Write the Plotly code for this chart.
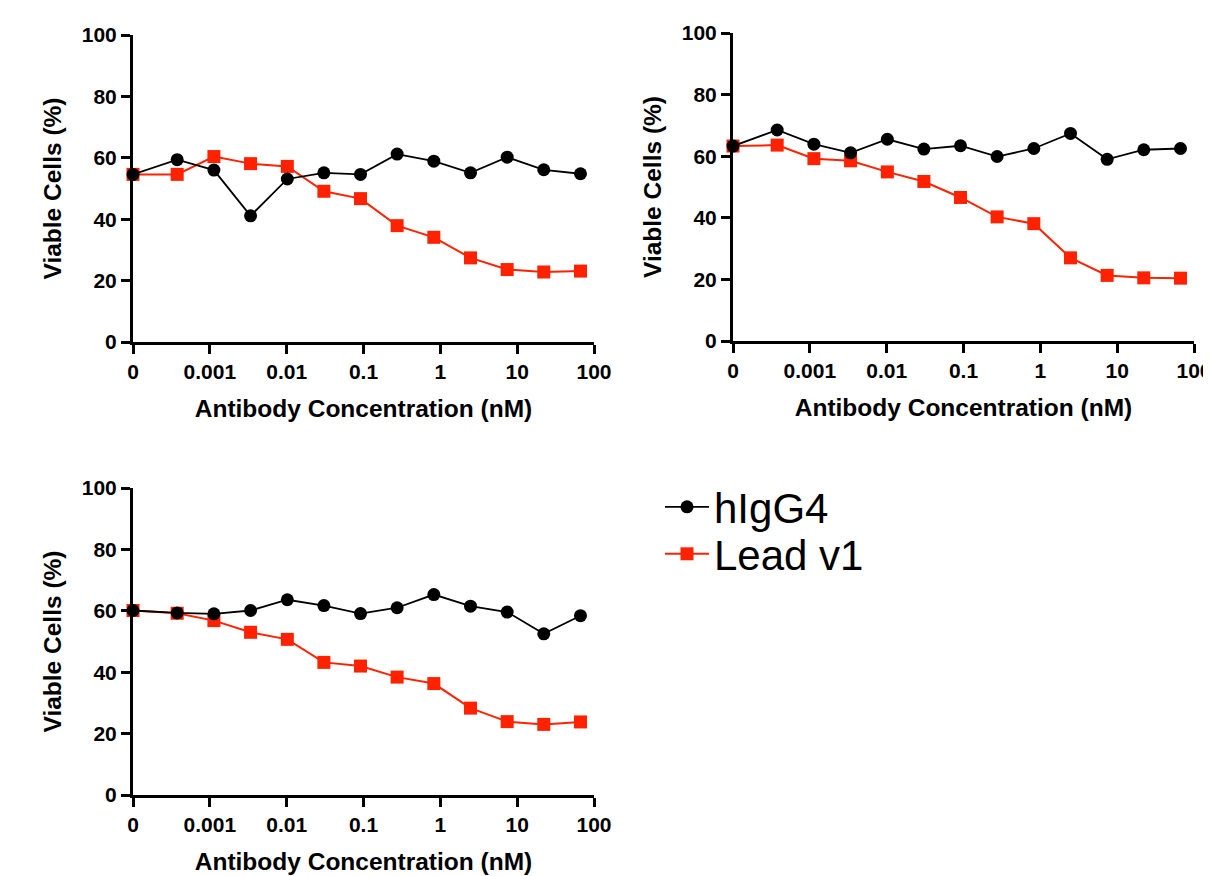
import plotly.graph_objects as go

# Antibody concentrations (nM); 0 is drawn at the "0" tick position (1e-4)
conc = [0, 0.000376, 0.00113, 0.00339, 0.0102, 0.0305, 0.0914, 0.274, 0.823, 2.47, 7.41, 22.2, 66.7]
zero_pos = 1e-4

x_tickvals = [1e-4, 1e-3, 1e-2, 1e-1, 1, 10, 100]
x_ticktext = ["0", "0.001", "0.01", "0.1", "1", "10", "100"]

higg4_p1 = [54.6, 59.4, 56.0, 41.1, 53.1, 55.1, 54.6, 61.2, 58.9, 55.1, 60.2, 56.1, 54.8]
lead_p1 = [54.6, 54.6, 60.4, 58.1, 57.2, 49.1, 46.7, 37.9, 34.1, 27.4, 23.6, 22.8, 23.1]

higg4_p2 = [63.3, 68.5, 63.9, 61.1, 65.5, 62.3, 63.4, 59.9, 62.5, 67.4, 59.0, 62.1, 62.5]
lead_p2 = [63.3, 63.6, 59.2, 58.5, 54.9, 51.8, 46.6, 40.3, 38.1, 27.0, 21.3, 20.5, 20.4]

higg4_p3 = [60.1, 59.3, 59.0, 60.1, 63.6, 61.7, 59.1, 61.0, 65.3, 61.5, 59.6, 52.5, 58.4]
lead_p3 = [60.1, 59.2, 56.8, 53.0, 50.7, 43.2, 42.0, 38.4, 36.3, 28.3, 23.9, 23.0, 23.8]

panels = [(higg4_p1, lead_p1), (higg4_p2, lead_p2), (higg4_p3, lead_p3)]

xpos = [zero_pos if c == 0 else c for c in conc]

W, H = 1211, 876
OFF = 8  # page body margin
# pixel boxes on the page: (left, right, top, bottom)
boxes = [(133, 594, 35, 342), (733, 1194, 33, 341), (133, 594, 488, 795)]


def px_x(p):
    return (p - OFF) / W


def px_y(p):
    return 1 - (p - OFF) / H


BLACK = "#000000"
RED = "#FF2200"
FONT = "Liberation Sans, Arial, sans-serif"

fig = go.Figure()
layout = {}
for i, ((hig, lead), (l, r, t, b)) in enumerate(zip(panels, boxes)):
    n = "" if i == 0 else str(i + 1)
    xa, ya = "x" + n, "y" + n
    show = i == 0
    fig.add_trace(go.Scatter(
        x=xpos, y=lead, mode="lines+markers", name="Lead v1",
        xaxis=xa, yaxis=ya, showlegend=show, legend="legend2",
        line=dict(color=RED, width=2),
        marker=dict(symbol="square", size=13, color=RED),
        cliponaxis=False))
    fig.add_trace(go.Scatter(
        x=xpos, y=hig, mode="lines+markers", name="hIgG4",
        xaxis=xa, yaxis=ya, showlegend=show, legend="legend",
        line=dict(color=BLACK, width=1.8),
        marker=dict(symbol="circle", size=13, color=BLACK),
        cliponaxis=False))
    layout["xaxis" + n] = dict(
        domain=[px_x(l), px_x(r)], anchor=ya, type="log", range=[-4, 2],
        tickvals=x_tickvals, ticktext=x_ticktext, automargin=False,
        showline=True, linewidth=3, linecolor=BLACK, mirror=False,
        ticks="outside", ticklen=9, tickwidth=3, tickcolor=BLACK,
        showgrid=False, zeroline=False,
        tickfont=dict(family=FONT, size=21, color=BLACK, weight="bold"),
        title=dict(text="Antibody Concentration (nM)", standoff=18,
                   font=dict(family=FONT, size=24.5, color=BLACK, weight="bold")))
    layout["yaxis" + n] = dict(
        domain=[px_y(b), px_y(t)], anchor=xa, range=[0, 100],
        tickvals=[0, 20, 40, 60, 80, 100], automargin=False,
        showline=True, linewidth=3, linecolor=BLACK,
        ticks="outside", ticklen=9, tickwidth=3, tickcolor=BLACK,
        showgrid=False, zeroline=False,
        tickfont=dict(family=FONT, size=21, color=BLACK, weight="bold"),
        title=dict(text="Viable Cells (%)", standoff=14,
                   font=dict(family=FONT, size=24.5, color=BLACK, weight="bold")))

leg_common = dict(xanchor="left", yanchor="middle",
                  font=dict(family=FONT, size=42, color=BLACK),
                  bgcolor="rgba(0,0,0,0)", itemwidth=44)

fig.update_layout(
    width=W, height=H,
    margin=dict(l=0, r=0, t=0, b=0, autoexpand=False),
    paper_bgcolor="white", plot_bgcolor="white",
    showlegend=True,
    legend=dict(x=px_x(660), y=px_y(507), **leg_common),
    legend2=dict(x=px_x(660), y=px_y(554), **leg_common),
    **layout)

fig.write_html("out.html")
